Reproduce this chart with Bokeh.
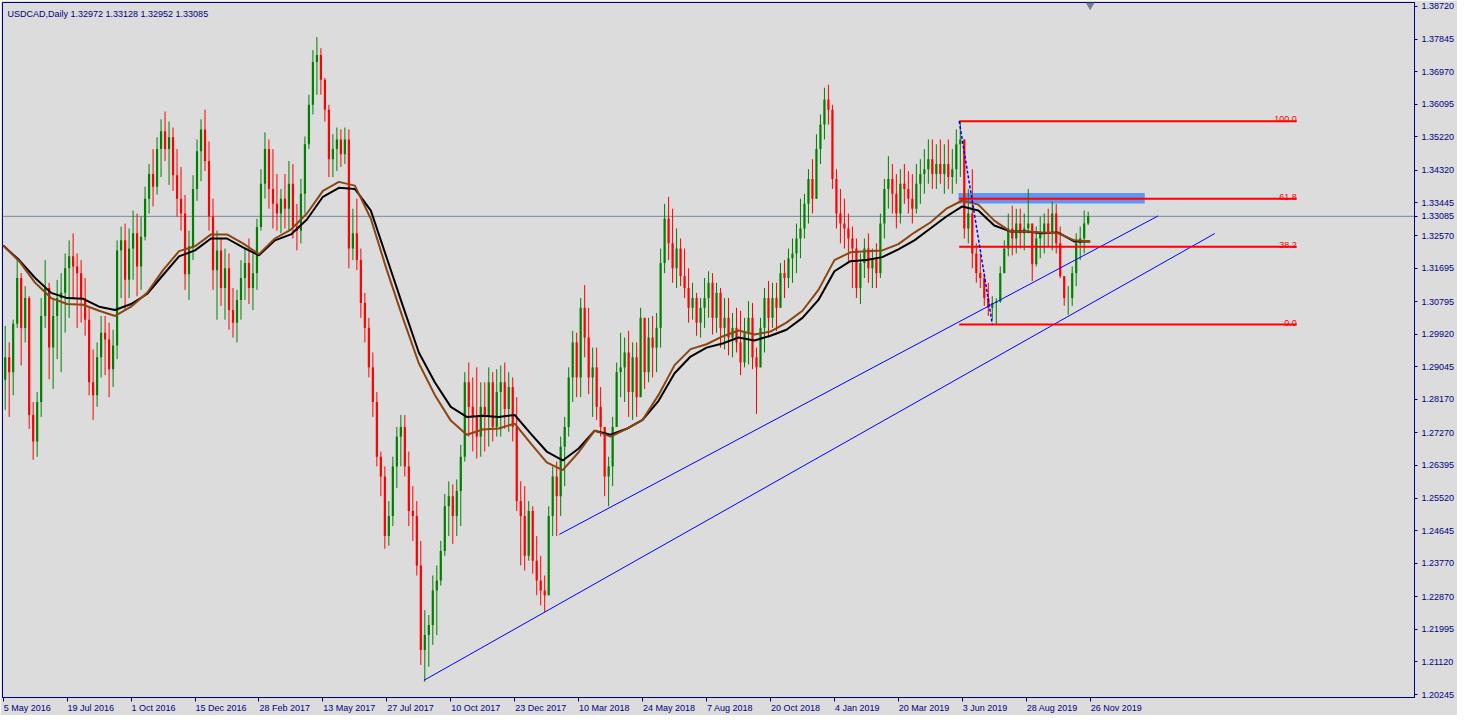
import numpy as np
from bokeh.plotting import figure
from bokeh.models import Range1d, FixedTicker, NumeralTickFormatter, Span, Label
from bokeh.core.properties import value
from bokeh.embed import file_html
from bokeh.resources import INLINE

# ---------------- data (USDCAD daily, grouped 4 sessions per candle) ----------------
first_open = 1.2870
high = [
    1.3014, 1.2970, 1.3031, 1.3191, 1.3156, 1.3121, 1.3094, 1.2810, 1.2837, 1.3089,
    1.3191, 1.3130, 1.3089, 1.3138, 1.3156, 1.3209, 1.3244, 1.3263, 1.3209, 1.3191,
    1.3143, 1.3063, 1.2951, 1.2970, 1.3041, 1.3041, 1.3023, 1.3004, 1.3244, 1.3281,
    1.3289, 1.3276, 1.3324, 1.3316, 1.3308, 1.3388, 1.3449, 1.3489, 1.3521, 1.3569,
    1.3590, 1.3563, 1.3547, 1.3489, 1.3441, 1.3366, 1.3270, 1.3419, 1.3515, 1.3569,
    1.3595, 1.3510, 1.3356, 1.3270, 1.3249, 1.3222, 1.3209, 1.3116, 1.3111, 1.3191,
    1.3222, 1.3249, 1.3209, 1.3302, 1.3435, 1.3534, 1.3515, 1.3489, 1.3422, 1.3382,
    1.3422, 1.3457, 1.3449, 1.3342, 1.3409, 1.3523, 1.3635, 1.3755, 1.3790, 1.3760,
    1.3680, 1.3608, 1.3529, 1.3547, 1.3542, 1.3547, 1.3542, 1.3329, 1.3356, 1.3222,
    1.3103, 1.3036, 1.2943, 1.2837, 1.2677, 1.2637, 1.2544, 1.2663, 1.2743, 1.2775,
    1.2775, 1.2677, 1.2584, 1.2544, 1.2437, 1.2251, 1.2238, 1.2344, 1.2371, 1.2437,
    1.2563, 1.2597, 1.2589, 1.2602, 1.2695, 1.2890, 1.2916, 1.2876, 1.2903, 1.2863,
    1.2863, 1.2903, 1.2890, 1.2898, 1.2908, 1.2916, 1.2890, 1.2876, 1.2823, 1.2597,
    1.2584, 1.2544, 1.2530, 1.2450, 1.2397, 1.2344, 1.2530, 1.2637, 1.2650, 1.2717,
    1.2770, 1.2903, 1.3001, 1.2996, 1.3089, 1.3124, 1.3063, 1.2956, 1.2956, 1.2850,
    1.2743, 1.2663, 1.2770, 1.2916, 1.2996, 1.2983, 1.3001, 1.2970, 1.2970, 1.3063,
    1.3036, 1.3036, 1.3041, 1.3049, 1.3222, 1.3342, 1.3361, 1.3329, 1.3276, 1.3249,
    1.3222, 1.3169, 1.3130, 1.3103, 1.3089, 1.3143, 1.3161, 1.3156, 1.3130, 1.3116,
    1.3089, 1.3089, 1.3049, 1.3063, 1.3055, 1.3036, 1.3081, 1.3076, 1.2956, 1.3036,
    1.3116, 1.3135, 1.3130, 1.3130, 1.3183, 1.3191, 1.3222, 1.3249, 1.3289, 1.3356,
    1.3369, 1.3435, 1.3462, 1.3529, 1.3582, 1.3654, 1.3662, 1.3608, 1.3435, 1.3382,
    1.3356, 1.3316, 1.3281, 1.3249, 1.3209, 1.3249, 1.3263, 1.3222, 1.3236, 1.3316,
    1.3409, 1.3470, 1.3449, 1.3422, 1.3435, 1.3449, 1.3430, 1.3422, 1.3449, 1.3462,
    1.3489, 1.3515, 1.3515, 1.3502, 1.3515, 1.3502, 1.3515, 1.3489, 1.3542, 1.3564,
    1.3515, 1.3382, 1.3435, 1.3236, 1.3209, 1.3156, 1.3130, 1.3094, 1.3089, 1.3174,
    1.3244, 1.3316, 1.3337, 1.3329, 1.3329, 1.3316, 1.3382, 1.3289, 1.3281, 1.3308,
    1.3316, 1.3329, 1.3348, 1.3342, 1.3281, 1.3148, 1.3121, 1.3174, 1.3263, 1.3281,
    1.3324, 1.3321,
]
low = [
    1.2789, 1.2770, 1.2828, 1.3009, 1.2908, 1.2970, 1.2738, 1.2655, 1.2663, 1.2770,
    1.3009, 1.2871, 1.2845, 1.2925, 1.2890, 1.2996, 1.3036, 1.3089, 1.3009, 1.3023,
    1.2988, 1.2828, 1.2762, 1.2797, 1.2876, 1.2882, 1.2823, 1.2850, 1.2925, 1.3089,
    1.3057, 1.3089, 1.3138, 1.3094, 1.3111, 1.3244, 1.3316, 1.3335, 1.3367, 1.3414,
    1.3457, 1.3393, 1.3377, 1.3308, 1.3270, 1.3111, 1.3084, 1.3191, 1.3350, 1.3403,
    1.3430, 1.3270, 1.3111, 1.3031, 1.3068, 1.3031, 1.3004, 1.2983, 1.2970, 1.3031,
    1.3084, 1.3073, 1.3057, 1.3111, 1.3270, 1.3356, 1.3329, 1.3276, 1.3270, 1.3263,
    1.3276, 1.3270, 1.3249, 1.3217, 1.3236, 1.3316, 1.3489, 1.3582, 1.3635, 1.3635,
    1.3563, 1.3414, 1.3414, 1.3430, 1.3441, 1.3449, 1.3169, 1.3191, 1.3164, 1.3036,
    1.2970, 1.2876, 1.2770, 1.2637, 1.2557, 1.2416, 1.2424, 1.2477, 1.2579, 1.2637,
    1.2610, 1.2477, 1.2437, 1.2344, 1.2104, 1.2059, 1.2099, 1.2158, 1.2184, 1.2317,
    1.2397, 1.2450, 1.2429, 1.2450, 1.2477, 1.2650, 1.2717, 1.2677, 1.2658, 1.2663,
    1.2677, 1.2690, 1.2704, 1.2717, 1.2717, 1.2738, 1.2730, 1.2704, 1.2517, 1.2371,
    1.2357, 1.2384, 1.2349, 1.2291, 1.2264, 1.2246, 1.2291, 1.2450, 1.2450, 1.2504,
    1.2584, 1.2717, 1.2810, 1.2823, 1.2823, 1.2930, 1.2831, 1.2770, 1.2762, 1.2717,
    1.2557, 1.2530, 1.2584, 1.2743, 1.2823, 1.2810, 1.2770, 1.2762, 1.2770, 1.2823,
    1.2845, 1.2863, 1.2876, 1.2890, 1.2956, 1.3156, 1.3191, 1.3130, 1.3116, 1.3121,
    1.3089, 1.3023, 1.3031, 1.2988, 1.2983, 1.3009, 1.3036, 1.2991, 1.2996, 1.2956,
    1.2951, 1.2935, 1.2930, 1.2943, 1.2882, 1.2903, 1.2911, 1.2898, 1.2778, 1.2903,
    1.2943, 1.2983, 1.3009, 1.3001, 1.3063, 1.3089, 1.3116, 1.3130, 1.3156, 1.3196,
    1.3249, 1.3289, 1.3316, 1.3356, 1.3449, 1.3515, 1.3555, 1.3382, 1.3276, 1.3236,
    1.3222, 1.3183, 1.3116, 1.3089, 1.3073, 1.3143, 1.3130, 1.3116, 1.3116, 1.3143,
    1.3249, 1.3329, 1.3316, 1.3276, 1.3289, 1.3342, 1.3316, 1.3289, 1.3316, 1.3342,
    1.3369, 1.3396, 1.3382, 1.3382, 1.3396, 1.3369, 1.3382, 1.3369, 1.3396, 1.3414,
    1.3249, 1.3236, 1.3169, 1.3130, 1.3116, 1.3068, 1.3041, 1.3031, 1.3018, 1.3076,
    1.3156, 1.3201, 1.3204, 1.3209, 1.3222, 1.3217, 1.3263, 1.3135, 1.3174, 1.3196,
    1.3209, 1.3228, 1.3217, 1.3209, 1.3143, 1.3068, 1.3044, 1.3068, 1.3121, 1.3191,
    1.3209, 1.3285,
]
close = [
    1.2930, 1.2890, 1.3020, 1.3143, 1.3009, 1.3089, 1.2775, 1.2704, 1.2810, 1.3041,
    1.3116, 1.2956, 1.3041, 1.3089, 1.3103, 1.3169, 1.3201, 1.3174, 1.3156, 1.3089,
    1.3031, 1.2863, 1.2828, 1.2930, 1.2996, 1.2978, 1.2898, 1.2962, 1.3217, 1.3244,
    1.3138, 1.3222, 1.3263, 1.3174, 1.3254, 1.3356, 1.3422, 1.3388, 1.3489, 1.3537,
    1.3489, 1.3521, 1.3419, 1.3356, 1.3316, 1.3153, 1.3228, 1.3382, 1.3483, 1.3542,
    1.3457, 1.3308, 1.3164, 1.3217, 1.3116, 1.3169, 1.3057, 1.3023, 1.3084, 1.3143,
    1.3183, 1.3116, 1.3156, 1.3280, 1.3396, 1.3489, 1.3382, 1.3342, 1.3316, 1.3356,
    1.3329, 1.3396, 1.3281, 1.3270, 1.3369, 1.3502, 1.3608, 1.3723, 1.3742, 1.3675,
    1.3595, 1.3462, 1.3489, 1.3515, 1.3475, 1.3515, 1.3222, 1.3263, 1.3191, 1.3076,
    1.3009, 1.2903, 1.2810, 1.2663, 1.2610, 1.2450, 1.2504, 1.2637, 1.2717, 1.2743,
    1.2637, 1.2517, 1.2504, 1.2371, 1.2144, 1.2184, 1.2211, 1.2304, 1.2331, 1.2410,
    1.2530, 1.2557, 1.2504, 1.2571, 1.2663, 1.2863, 1.2797, 1.2770, 1.2717, 1.2797,
    1.2770, 1.2863, 1.2743, 1.2837, 1.2863, 1.2791, 1.2850, 1.2743, 1.2544, 1.2504,
    1.2397, 1.2517, 1.2384, 1.2331, 1.2304, 1.2291, 1.2504, 1.2610, 1.2557, 1.2690,
    1.2743, 1.2876, 1.2970, 1.2876, 1.3063, 1.2983, 1.2876, 1.2903, 1.2797, 1.2743,
    1.2610, 1.2637, 1.2743, 1.2890, 1.2903, 1.2943, 1.2837, 1.2930, 1.2823, 1.3036,
    1.2890, 1.2983, 1.2956, 1.3009, 1.3183, 1.3302, 1.3236, 1.3169, 1.3222, 1.3148,
    1.3116, 1.3063, 1.3089, 1.3023, 1.3063, 1.3089, 1.3130, 1.3036, 1.3103, 1.3009,
    1.3036, 1.2983, 1.3009, 1.2970, 1.2916, 1.2996, 1.3036, 1.2930, 1.2903, 1.3009,
    1.3089, 1.3036, 1.3089, 1.3063, 1.3156, 1.3143, 1.3196, 1.3209, 1.3249, 1.3276,
    1.3342, 1.3409, 1.3356, 1.3489, 1.3555, 1.3622, 1.3595, 1.3409, 1.3316, 1.3289,
    1.3276, 1.3249, 1.3222, 1.3116, 1.3183, 1.3222, 1.3169, 1.3196, 1.3156, 1.3289,
    1.3382, 1.3409, 1.3369, 1.3316, 1.3396, 1.3382, 1.3356, 1.3329, 1.3396, 1.3422,
    1.3435, 1.3462, 1.3422, 1.3449, 1.3422, 1.3449, 1.3414, 1.3435, 1.3502, 1.3515,
    1.3276, 1.3316, 1.3209, 1.3156, 1.3143, 1.3089, 1.3063, 1.3076, 1.3080, 1.3156,
    1.3222, 1.3276, 1.3249, 1.3289, 1.3263, 1.3276, 1.3289, 1.3180, 1.3249, 1.3263,
    1.3289, 1.3263, 1.3316, 1.3236, 1.3148, 1.3089, 1.3089, 1.3156, 1.3236, 1.3249,
    1.3289, 1.33085,
]
bar_days = 4  # sessions per drawn candle

# moving averages, one value every 16 sessions
ma_step = 16
ma_black = [
    1.3230, 1.3191, 1.3143, 1.3103, 1.3089, 1.3087, 1.3066, 1.3057, 1.3073, 1.3100,
    1.3151, 1.3201, 1.3217, 1.3249, 1.3249, 1.3225, 1.3204, 1.3244, 1.3260, 1.3300,
    1.3361, 1.3385, 1.3382, 1.3324, 1.3196, 1.3068, 1.2943, 1.2863, 1.2797, 1.2770,
    1.2773, 1.2770, 1.2775, 1.2725, 1.2677, 1.2653, 1.2685, 1.2733, 1.2722, 1.2738,
    1.2762, 1.2813, 1.2887, 1.2932, 1.2956, 1.2967, 1.2983, 1.2975, 1.2988, 1.3004,
    1.3036, 1.3084, 1.3161, 1.3188, 1.3191, 1.3199, 1.3220, 1.3244, 1.3276, 1.3308,
    1.3335, 1.3324, 1.3284, 1.3268, 1.3268, 1.3263, 1.3265, 1.3241, 1.3241,
]
ma_brown = [
    1.3230, 1.3188, 1.3130, 1.3089, 1.3073, 1.3071, 1.3055, 1.3041, 1.3066, 1.3103,
    1.3164, 1.3215, 1.3228, 1.3260, 1.3260, 1.3236, 1.3207, 1.3249, 1.3273, 1.3316,
    1.3377, 1.3401, 1.3391, 1.3302, 1.3164, 1.3036, 1.2914, 1.2829, 1.2760, 1.2722,
    1.2736, 1.2739, 1.2752, 1.2699, 1.2648, 1.2627, 1.2675, 1.2733, 1.2717, 1.2738,
    1.2762, 1.2829, 1.2909, 1.2952, 1.2965, 1.2986, 1.3002, 1.2991, 1.2999, 1.3023,
    1.3055, 1.3111, 1.3191, 1.3212, 1.3215, 1.3217, 1.3234, 1.3265, 1.3292, 1.3329,
    1.3351, 1.3340, 1.3297, 1.3268, 1.3268, 1.3265, 1.3263, 1.3244, 1.3241,
]

# x-axis labels every 64 sessions
x_labels = ["5 May 2016", "19 Jul 2016", "1 Oct 2016", "15 Dec 2016", "28 Feb 2017",
            "13 May 2017", "27 Jul 2017", "10 Oct 2017", "23 Dec 2017", "10 Mar 2018",
            "24 May 2018", "7 Aug 2018", "20 Oct 2018", "4 Jan 2019", "20 Mar 2019",
            "3 Jun 2019", "28 Aug 2019", "26 Nov 2019"]
label_step = 64
y_ticks = [1.38720, 1.37845, 1.36970, 1.36095, 1.35220, 1.34320, 1.33445, 1.32570,
           1.31695, 1.30795, 1.29920, 1.29045, 1.28170, 1.27270, 1.26395, 1.25520,
           1.24645, 1.23770, 1.22870, 1.21995, 1.21120, 1.20245]

title_text = "USDCAD,Daily  1.32972 1.33128 1.32952 1.33085"
last_price = 1.33085

# analysis objects (session index, price)
fib_high, fib_low = 1.3564, 1.3018
fib_levels = [100.0, 61.8, 38.2, 0.0]
fib_day_high, fib_day_low, fib_day_end = 956.9, 990.1, 1294.7
zone_top, zone_bottom = 1.33715, 1.33431
zone_day_start, zone_day_end = 956.2, 1142.6
trend1_days, trend1_prices = [556.6, 1155.9], [1.24544, 1.33095]
trend2_days, trend2_prices = [421.1, 1212.7], [1.20625, 1.32624]

# ---------------- style ----------------
BG = "#DCDCDC"
NAVY = "#000080"
UP, DOWN = "#008000", "#FF0000"
FONT = "Liberation Sans"
FS = "9px"
PX_PER_DAY = 1.0012
W, H = 1457, 715
LEFT_B, TOP_B, RIGHT_B, BOTTOM_B = 2, 2, 40, 12
FIRST_TICK_PX = 2.7
X_START = (LEFT_B - FIRST_TICK_PX) / PX_PER_DAY
x_end = X_START + (W - LEFT_B - RIGHT_B) / PX_PER_DAY
Y_BOTTOM, Y_TOP = 1.20165, 1.38827

p = figure(width=W, height=H, output_backend="svg", toolbar_location=None,
           x_range=Range1d(X_START, x_end), y_range=Range1d(Y_BOTTOM, Y_TOP),
           y_axis_location="right",
           min_border_left=LEFT_B, min_border_top=TOP_B,
           min_border_right=RIGHT_B, min_border_bottom=BOTTOM_B,
           background_fill_color=BG, border_fill_color=BG,
           outline_line_color=NAVY, outline_line_width=1)
p.xgrid.visible = False
p.ygrid.visible = False

# current price line (under the bars)
p.add_layout(Span(location=last_price, dimension="width", line_color="#778899",
                  line_width=1, level="underlay"))

# resistance zone
p.quad(left=[zone_day_start], right=[zone_day_end], top=[zone_top], bottom=[zone_bottom],
       fill_color="#6495ED", line_color=None)

# candles
n = len(close)
opens = [first_open] + close[:-1]
days = np.arange(n) * bar_days + bar_days / 2
hi = [max(h, o, c) for h, o, c in zip(high, opens, close)]
lo = [min(l, o, c) for l, o, c in zip(low, opens, close)]
colors = [UP if c >= o else DOWN for o, c in zip(opens, close)]
p.segment(x0=days, y0=lo, x1=days, y1=hi, line_color=colors, line_width=1)
p.vbar(x=days, width=2.2, top=[max(o, c) for o, c in zip(opens, close)],
       bottom=[min(o, c) for o, c in zip(opens, close)], fill_color=colors, line_color=None)

# moving averages
ma_days = np.arange(len(ma_black)) * ma_step
p.line(ma_days, ma_black, line_color="black", line_width=2)
p.line(ma_days, ma_brown, line_color="#8B4513", line_width=2)

# trend lines
p.line(trend1_days, trend1_prices, line_color="#0000FF", line_width=1)
p.line(trend2_days, trend2_prices, line_color="#0000FF", line_width=1)

# fibonacci retracement
lvl_prices = [fib_low + (fib_high - fib_low) * lv / 100.0 for lv in fib_levels]
p.segment(x0=[fib_day_high] * len(lvl_prices), y0=lvl_prices,
          x1=[fib_day_end] * len(lvl_prices), y1=lvl_prices,
          line_color="#FF0000", line_width=2)
p.line([fib_day_high, fib_day_low], [fib_high, fib_low], line_color="#0000FF",
       line_width=1.5, line_dash="3 2")
p.text(x=[fib_day_end] * len(lvl_prices), y=lvl_prices,
       text=["%.1f" % lv for lv in fib_levels], text_align="right",
       text_baseline="alphabetic", y_offset=-2, text_color="#FF0000",
       text_font=value(FONT), text_font_size=FS)

# chart-shift marker at the top, above the last bar
px_price = (Y_TOP - Y_BOTTOM) / (H - TOP_B - BOTTOM_B)
p.scatter(x=[days[-1] + 2], y=[Y_TOP - 2.5 * px_price], marker="inverted_triangle",
          size=9, fill_color="#708090", line_color=None)

# ---------------- axes ----------------
CHAR_W = {d: 0.556 for d in "0123456789"}
CHAR_W.update({" ": 0.278, "M": 0.833, "a": 0.556, "y": 0.5, "J": 0.5, "u": 0.556,
               "l": 0.222, "O": 0.778, "c": 0.5, "t": 0.278, "D": 0.722, "e": 0.556,
               "F": 0.611, "b": 0.556, "r": 0.333, "A": 0.667, "g": 0.556, "N": 0.722,
               "o": 0.556, "v": 0.5, "n": 0.556})


def text_w(s):
    return sum(CHAR_W.get(ch, 0.556) for ch in s) * 9


tick_days = [i * label_step for i in range(len(x_labels))]
centers = []
for d, lab in zip(tick_days, x_labels):
    c = round(d + (text_w(lab) / 2 + 0.5) / PX_PER_DAY, 2)
    if c == int(c):
        c += 0.01
    centers.append(c)

xa = p.xaxis[0]
xa.ticker = FixedTicker(ticks=centers, minor_ticks=tick_days)
xa.major_label_overrides = {c: lab for c, lab in zip(centers, x_labels)}
xa.major_tick_line_color = None
xa.major_tick_out = 0
xa.major_tick_in = 0
xa.minor_tick_out = 4
xa.minor_tick_in = 0
xa.minor_tick_line_color = NAVY
xa.axis_line_color = NAVY
xa.major_label_standoff = 1
xa.major_label_text_font = FONT
xa.major_label_text_font_size = FS
xa.major_label_text_color = NAVY

ya = p.yaxis[0]
ya.ticker = FixedTicker(ticks=y_ticks + [last_price])
ya.formatter = NumeralTickFormatter(format="0.00000")
ya.major_tick_out = 3
ya.major_tick_in = 0
ya.minor_tick_line_color = None
ya.major_tick_line_color = NAVY
ya.axis_line_color = NAVY
ya.major_label_standoff = 4
ya.major_label_text_font = FONT
ya.major_label_text_font_size = FS
ya.major_label_text_color = NAVY

# title text
p.add_layout(Label(x=4.3, y=1.38507, text=title_text, text_font=FONT,
                   text_font_size=FS, text_color=NAVY, text_baseline="alphabetic"))

open("out.html", "w").write(file_html(p, INLINE))
